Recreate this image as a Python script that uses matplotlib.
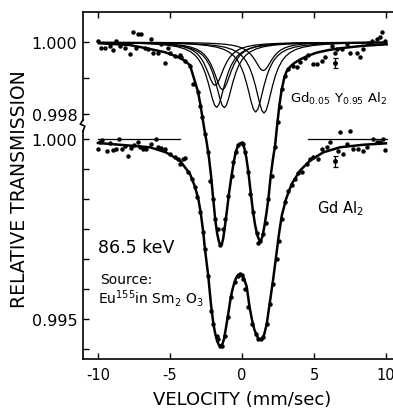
import numpy as np
import matplotlib
matplotlib.use("Agg")
import matplotlib.pyplot as plt
from matplotlib.patches import Rectangle

plt.rcParams['font.family'] = ['DejaVu Sans']
plt.rcParams['mathtext.default'] = 'regular'

# ---------------- data ----------------
# Gd0.05 Y0.95 Al2 (upper spectrum) measured points
upper_vel = [-10.00, -9.77, -9.53, -9.19, -8.96, -8.73, -8.49, -8.15, -7.80, -7.57,
             -7.34, -7.22, -6.99, -6.76, -6.53, -6.30, -6.18, -5.83, -5.60, -5.37,
             -5.14, -4.98, -4.67, -4.33, -4.22, -3.98, -3.63, -3.40, -3.06, -2.92,
             -2.78, -2.57, -2.34, -2.22, -1.99, -1.88, -1.65, -1.53, -1.34, -1.18,
             -0.95, -0.72, -0.60, -0.42, -0.26, -0.02, 0.09, 0.21, 0.44, 0.56,
             0.78, 1.02, 1.13, 1.25, 1.48, 1.67, 1.83, 2.06, 2.29, 2.48,
             2.64, 2.78, 2.99, 3.22, 3.56, 3.80, 4.03, 4.38, 4.60, 4.95,
             5.19, 5.53, 5.76, 6.23, 6.46, 6.58, 6.92, 7.27, 7.50, 7.97,
             8.19, 8.42, 8.77, 9.01, 9.35, 9.58, 9.70, 9.93]
upper_trans = [1.00002, 0.99985, 0.99983, 0.99990, 0.99978, 1.00002, 0.99990, 0.99985, 0.99967, 1.00027,
               0.99985, 1.00022, 1.00022, 0.99983, 0.99981, 1.00008, 0.99969, 0.99969, 0.99994, 0.99941,
               0.99983, 0.99971, 0.99962, 0.99965, 0.99958, 0.99948, 0.99933, 0.99885, 0.99861, 0.99822,
               0.99792, 0.99744, 0.99694, 0.99615, 0.99564, 0.99508, 0.99481, 0.99436, 0.99481, 0.99508,
               0.99573, 0.99629, 0.99666, 0.99694, 0.99714, 0.99719, 0.99717, 0.99694, 0.99638, 0.99578,
               0.99527, 0.99471, 0.99442, 0.99448, 0.99467, 0.99499, 0.99564, 0.99629, 0.99708, 0.99777,
               0.99819, 0.99869, 0.99906, 0.99925, 0.99933, 0.99930, 0.99944, 0.99956, 0.99964, 0.99940,
               0.99939, 0.99948, 0.99958, 0.99990, 0.99971, 0.99981, 0.99981, 0.99994, 0.99971, 0.99971,
               0.99958, 0.99981, 0.99999, 1.00004, 1.00008, 1.00013, 1.00027, 1.00004]

# upper fitted curve
upper_fit_vel = [-9.93, -7.78, -6.39, -5.35, -4.58, -4.03, -3.61, -3.30, -3.05, -2.88,
                 -2.74, -2.60, -2.45, -2.30, -2.15, -2.00, -1.85, -1.72, -1.60, -1.50,
                 -1.40, -1.30, -1.18, -1.05, -0.90, -0.75, -0.60, -0.45, -0.30, -0.15,
                 0.00, 0.15, 0.30, 0.45, 0.60, 0.75, 0.90, 1.05, 1.18, 1.30,
                 1.42, 1.55, 1.70, 1.85, 2.00, 2.15, 2.30, 2.45, 2.60, 2.75,
                 2.92, 3.10, 3.35, 3.60, 4.00, 4.50, 5.20, 6.00, 6.81, 8.42, 10.05]
upper_fit_trans = [0.99997, 0.99992, 0.99981, 0.99972, 0.99961, 0.99950, 0.99936, 0.99895, 0.99862, 0.99825,
                   0.99790, 0.99755, 0.99722, 0.99682, 0.99630, 0.99566, 0.99505, 0.99468, 0.99446, 0.99436,
                   0.99438, 0.99455, 0.99490, 0.99530, 0.99580, 0.99622, 0.99660, 0.99692, 0.99710, 0.99719,
                   0.99720, 0.99708, 0.99680, 0.99638, 0.99585, 0.99535, 0.99495, 0.99466, 0.99452, 0.99447,
                   0.99460, 0.99487, 0.99525, 0.99570, 0.99630, 0.99675, 0.99713, 0.99772, 0.99825, 0.99866,
                   0.99898, 0.99919, 0.99932, 0.99941, 0.99951, 0.99961, 0.99971, 0.99978, 0.99983, 0.99990, 0.99994]

# component lines of the upper spectrum (centre, depth) and their common line shape
comp_center = [-1.87, -1.35, -1.76, -1.23, 0.95, 1.53, 1.48]
comp_depth = [0.00120, 0.00132, 0.00181, 0.00182, 0.00194, 0.00197, 0.00079]
comp_dx = [0, 0.15, 0.3, 0.45, 0.6, 0.8, 1.0, 1.25, 1.5, 1.8, 2.2, 2.7, 3.4, 4.3, 5.5, 7, 9, 12]
comp_shape = [1, 0.962, 0.862, 0.735, 0.610, 0.468, 0.360, 0.265, 0.200, 0.148,
              0.104, 0.0716, 0.0464, 0.0295, 0.0183, 0.0114, 0.0069, 0.0039]

# Gd Al2 (lower spectrum) measured points
lower_vel = [-10.00, -9.86, -9.72, -9.38, -9.17, -8.96, -8.73, -8.54, -8.31, -8.13,
             -7.92, -7.69, -7.50, -7.22, -7.10, -6.88, -6.65, -6.30, -5.95, -5.83,
             -5.63, -5.37, -5.02, -4.67, -4.44, -4.33, -4.10, -3.96, -3.73, -3.49,
             -3.26, -3.15, -2.92, -2.73, -2.57, -2.34, -2.17, -1.99, -1.76, -1.65,
             -1.53, -1.41, -1.18, -0.95, -0.78, -0.49, -0.26, -0.14, -0.02, 0.09,
             0.21, 0.44, 0.67, 0.97, 1.13, 1.32, 1.48, 1.72, 1.94, 2.17,
             2.41, 2.59, 2.76, 2.99, 3.22, 3.45, 3.68, 3.91, 4.15, 4.49,
             4.72, 4.95, 5.30, 5.53, 5.88, 6.11, 6.69, 6.81, 7.03, 7.27,
             7.50, 7.73, 8.08, 8.42, 8.66, 9.12, 9.35, 9.58, 9.81, 9.93]
lower_trans = [0.99972, 0.99991, 0.99997, 0.99968, 0.99989, 0.99969, 0.99972, 1.00000, 0.99972, 0.99981,
               0.99952, 0.99975, 0.99983, 0.99991, 0.99977, 0.99972, 0.99972, 0.99986, 1.00000, 0.99977,
               0.99975, 0.99972, 0.99958, 0.99949, 0.99944, 0.99931, 0.99944, 0.99946, 0.99908, 0.99889,
               0.99866, 0.99838, 0.99796, 0.99741, 0.99694, 0.99620, 0.99523, 0.99486, 0.99454, 0.99444,
               0.99426, 0.99426, 0.99454, 0.99505, 0.99560, 0.99602, 0.99620, 0.99625, 0.99622, 0.99611,
               0.99583, 0.99532, 0.99486, 0.99458, 0.99444, 0.99444, 0.99449, 0.99486, 0.99542, 0.99597,
               0.99667, 0.99718, 0.99778, 0.99825, 0.99856, 0.99872, 0.99889, 0.99906, 0.99908, 0.99931,
               0.99944, 0.99949, 0.99944, 0.99972, 0.99977, 0.99991, 0.99968, 1.00019, 0.99958, 0.99986,
               1.00023, 0.99972, 0.99972, 0.99968, 0.99977, 1.00000, 0.99991, 0.99991, 1.00000, 0.99969]

lower_fit_vel = [-10.00, -7.57, -6.39, -5.28, -4.31, -3.61, -3.26, -3.03, -2.87, -2.69,
                 -2.57, -2.45, -2.34, -2.15, -1.99, -1.85, -1.72, -1.60, -1.48, -1.36,
                 -1.25, -1.10, -0.95, -0.83, -0.70, -0.55, -0.40, -0.25, -0.10, 0.05,
                 0.20, 0.33, 0.51, 0.67, 0.85, 1.02, 1.15, 1.28, 1.42, 1.55,
                 1.72, 1.94, 2.17, 2.41, 2.55, 2.76, 3.06, 3.45, 4.03, 4.72,
                 5.65, 6.81, 8.42, 10.00]
lower_fit_trans = [0.99989, 0.99981, 0.99977, 0.99963, 0.99940, 0.99903, 0.99867, 0.99833, 0.99797, 0.99742,
                   0.99694, 0.99655, 0.99619, 0.99540, 0.99488, 0.99458, 0.99438, 0.99428, 0.99425, 0.99430,
                   0.99444, 0.99478, 0.99515, 0.99547, 0.99575, 0.99598, 0.99615, 0.99623, 0.99625, 0.99621,
                   0.99605, 0.99590, 0.99538, 0.99503, 0.99472, 0.99454, 0.99446, 0.99443, 0.99446, 0.99458,
                   0.99486, 0.99547, 0.99611, 0.99686, 0.99730, 0.99786, 0.99833, 0.99875, 0.99912, 0.99940,
                   0.99963, 0.99977, 0.99984, 0.99988]

# baseline segments of the lower spectrum (vel start, vel end)
lower_base_segments = [(-10.0, -4.3), (4.6, 10.05)]

# representative error bars (vel, trans, half-length)
upper_err = (6.43, 0.99942, 0.00014)
lower_err = (6.43, 0.99938, 0.00016)

x_ticks = [-10, -5, 0, 5, 10]
x_ticklabels = ['-10', '-5', '0', '5', '10']
upper_ticks = [1.000, 0.999, 0.998]
upper_ticklabels = ['1.000', '', '0.998']
lower_ticks = [1.000, 0.99917, 0.99833, 0.99750, 0.99667, 0.99583, 0.99500, 0.99417]
lower_ticklabels = ['1.000', '', '', '', '', '', '0.995', '']

# ---------------- layout ----------------
UPPER_SHIFT = 0.00269          # vertical offset of the upper spectrum on the shared axis
W, H = 393, 410
fig = plt.figure(figsize=(W / 100, H / 100), dpi=100)
ax = fig.add_axes([83 / W, 50 / H, 310 / W, 347 / H])
ax.set_xlim(-11.04, 10.49)
ax.set_ylim(0.993889, 1.003528)

lw_axis = 1.2
clip = Rectangle((-10.0, 0.99), 20.05, 0.02, transform=ax.transData)

# upper spectrum
up = lambda v: np.asarray(v) + UPPER_SHIFT
dx = np.asarray(comp_dx, dtype=float)
shape = np.asarray(comp_shape, dtype=float)
full_dx = np.concatenate([-dx[::-1], dx[1:]])
full_shape = np.concatenate([shape[::-1], shape[1:]])
for c, d in zip(comp_center, comp_depth):
    ln, = ax.plot(c + full_dx, up(1.0 - d * full_shape), color='black', lw=0.9)
    ln.set_clip_path(clip)
ax.plot(upper_fit_vel, up(upper_fit_trans), color='black', lw=1.8, solid_joinstyle='round')
ax.plot(upper_vel, up(upper_trans), 'o', color='black', ms=3.2, mew=0)
ax.errorbar(upper_err[0], upper_err[1] + UPPER_SHIFT, yerr=upper_err[2], fmt='o', color='black',
            ms=2.5, capsize=1.8, elinewidth=0.9, capthick=0.9)

# lower spectrum
for a, b in lower_base_segments:
    ax.plot([a, b], [1.0, 1.0], color='black', lw=0.9)
ax.plot(lower_fit_vel, lower_fit_trans, color='black', lw=1.8, solid_joinstyle='round')
ax.plot(lower_vel, lower_trans, 'o', color='black', ms=3.2, mew=0)
ax.errorbar(lower_err[0], lower_err[1], yerr=lower_err[2], fmt='o', color='black',
            ms=2.5, capsize=1.8, elinewidth=0.9, capthick=0.9)

# ticks
ax.set_xticks(x_ticks)
ax.set_xticklabels(x_ticklabels, fontsize=10.5)
yt = [t + UPPER_SHIFT for t in upper_ticks] + lower_ticks
ytl = upper_ticklabels + lower_ticklabels
ax.set_yticks(yt)
ax.set_yticklabels(ytl, fontsize=11.5)
ax.tick_params(axis='x', direction='in', top=True, length=4, width=1.0, pad=6)
ax.tick_params(axis='y', direction='in', right=False, length=4, width=1.0, pad=4)

# spines, with a break in the left one
for s in ['right', 'left']:
    ax.spines[s].set_visible(False)
for s in ['top', 'bottom']:
    ax.spines[s].set_linewidth(lw_axis)
b_top = (360 - 121) / 347
b_bot = (360 - 132) / 347
ax.plot([0, 0], [b_top, 1], transform=ax.transAxes, color='black', lw=lw_axis, clip_on=False)
ax.plot([0, 0], [0, b_bot], transform=ax.transAxes, color='black', lw=lw_axis, clip_on=False)
ax.plot([0, -0.009, 0.006, 0], [b_top, b_top - 0.012, b_bot + 0.014, b_bot],
        transform=ax.transAxes, color='black', lw=lw_axis, clip_on=False)

# text
def fx(px):
    return px / W

def fy(py):
    return 1 - py / H

fig.text(fx(242), fy(400), 'VELOCITY (mm/sec)', ha='center', va='center', fontsize=13)
fig.text(fx(20), fy(189), 'RELATIVE TRANSMISSION', ha='center', va='center', rotation=90, fontsize=13.5)
fig.text(fx(98), fy(248), '86.5 keV', ha='left', va='center', fontsize=12.5)
fig.text(fx(100), fy(280), 'Source:', ha='left', va='center', fontsize=10)
fig.text(fx(98), fy(304), 'Eu$^{155}$in Sm$_2$ O$_3$', ha='left', va='baseline', fontsize=10)
fig.text(fx(290), fy(103), 'Gd$_{0.05}$ Y$_{0.95}$ Al$_2$', ha='left', va='baseline', fontsize=9.5)
fig.text(fx(317), fy(213), 'Gd Al$_2$', ha='left', va='baseline', fontsize=10.5)

fig.savefig('out.png', dpi=100, facecolor='white')
